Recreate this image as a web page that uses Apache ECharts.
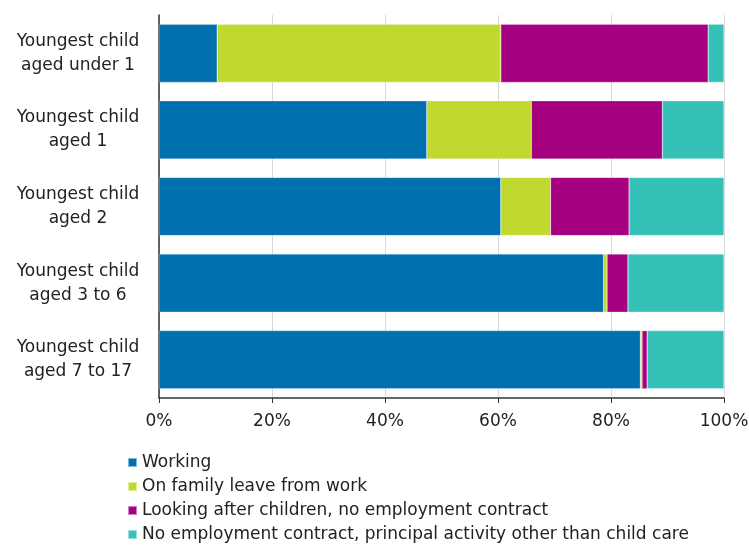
<!DOCTYPE html>
<html>
<head>
<meta charset="utf-8">
<script src="https://cdn.jsdelivr.net/npm/echarts@6/dist/echarts.min.js"></script>
<style>html,body{margin:0;padding:0;background:#fff}#c{width:749px;height:545px}</style>
</head>
<body>
<div id="c"></div>
<script>
const categories = [
  "Youngest child\naged under 1",
  "Youngest child\naged 1",
  "Youngest child\naged 2",
  "Youngest child\naged 3 to 6",
  "Youngest child\naged 7 to 17"
];
const seriesNames = [
  "Working",
  "On family leave from work",
  "Looking after children, no employment contract",
  "No employment contract, principal activity other than child care"
];
const working = [10.3, 47.4, 60.5, 78.7, 85.2];
const familyLeave = [50.2, 18.5, 8.8, 0.6, 0.3];
const lookingAfter = [36.7, 23.2, 13.9, 3.7, 0.9];
const otherActivity = [2.8, 10.9, 16.8, 17.0, 13.6];
const xTicks = [0, 20, 40, 60, 80, 100];
const colors = ["#0070ae", "#c1d82f", "#a4007f", "#36c1b8"];

const values = [working, familyLeave, lookingAfter, otherActivity];
const FONT = "DejaVu Sans, sans-serif";
const chart = echarts.init(document.getElementById('c'));
chart.setOption({
  animation: false,
  textStyle: { fontFamily: FONT },
  grid: { left: 159, right: 25, top: 15, bottom: 147, containLabel: false, outerBoundsMode: 'none' },
  xAxis: {
    type: 'value', min: 0, max: 100, interval: 20,
    axisLabel: { formatter: v => xTicks.includes(v) ? v + '%' : '', fontSize: 17, fontFamily: FONT, color: '#222', margin: 15 },
    axisLine: { show: true, lineStyle: { color: '#333', width: 1.5 } },
    axisTick: { show: true, length: 5, lineStyle: { color: '#333' } },
    splitLine: { show: true, lineStyle: { color: '#d9d9d9', width: 1 } }
  },
  yAxis: {
    type: 'category', data: categories, inverse: true,
    axisLabel: { fontSize: 17, fontFamily: FONT, color: '#222', align: 'center', margin: 81, lineHeight: 24 },
    axisLine: { show: true, lineStyle: { color: '#333', width: 1.5 } },
    axisTick: { show: false }
  },
  legend: {
    orient: 'vertical', left: 127, top: 454, height: 120, padding: 0,
    itemWidth: 9, itemHeight: 9, itemGap: 7, itemTextGap: 6,
    icon: 'rect',
    textStyle: { fontSize: 17, fontFamily: FONT, color: '#222' },
    data: seriesNames
  },
  series: seriesNames.map((n, i) => ({
    name: n, type: 'bar', stack: 'total', data: values[i],
    barCategoryGap: '24%',
    itemStyle: { color: colors[i], borderColor: 'rgba(255,255,255,0.5)', borderWidth: 0.5 }
  }))
});
</script>
</body>
</html>
